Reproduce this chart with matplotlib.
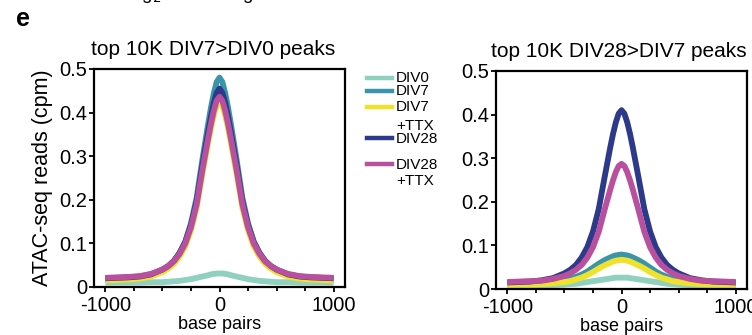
import numpy as np
import matplotlib
matplotlib.use("Agg")
import matplotlib.pyplot as plt
from matplotlib.lines import Line2D
from matplotlib.ticker import MultipleLocator

plt.rcParams['font.family'] = ['Liberation Sans', 'DejaVu Sans']

# positions (bp) around the peak centre
bp = [-1000, -900, -800, -700, -600, -500, -450, -400, -350, -300, -250, -200, -150,
      -100, -75, -50, -25, 0, 25, 50, 75, 100, 150, 200, 250, 300, 350, 400, 450,
      500, 600, 700, 800, 900, 1000]

labels = ["DIV0", "DIV7", "DIV7\n+TTX", "DIV28", "DIV28\n+TTX"]
colors = ["#8fd0bf", "#3a95aa", "#f0e12c", "#2d3a8a", "#b9509f"]

# top 10K DIV7>DIV0 peaks
left_div0 = [.010, .010, .010, .010, .011, .011, .012, .013, .014, .016, .018, .021, .024,
             .027, .029, .030, .031, .031, .031, .030, .029, .027, .024, .021, .018, .016,
             .014, .013, .012, .011, .011, .010, .010, .010, .010]
left_div7 = [.016, .017, .018, .020, .026, .037, .046, .058, .078, .104, .146, .205, .292,
             .373, .411, .444, .470, .480, .470, .444, .411, .373, .292, .205, .146, .104,
             .078, .058, .046, .037, .026, .020, .018, .017, .016]
left_div7ttx = [.015, .016, .017, .019, .024, .034, .042, .053, .070, .093, .130, .182, .259,
                .330, .364, .393, .416, .425, .416, .393, .364, .330, .259, .182, .130, .093,
                .070, .053, .042, .034, .024, .019, .017, .016, .015]
left_div28 = [.020, .021, .022, .024, .029, .040, .048, .060, .078, .103, .142, .197, .279,
              .355, .390, .422, .445, .455, .445, .422, .390, .355, .279, .197, .142, .103,
              .078, .060, .048, .040, .029, .024, .022, .021, .020]
left_div28ttx = [.021, .022, .023, .025, .030, .040, .048, .059, .076, .100, .137, .190, .268,
                 .340, .374, .404, .427, .436, .427, .404, .374, .340, .268, .190, .137, .100,
                 .076, .059, .048, .040, .030, .025, .023, .022, .021]

# top 10K DIV28>DIV7 peaks
right_div0 = [.008, .008, .008, .009, .009, .010, .011, .012, .014, .016, .018, .020, .022,
              .024, .025, .026, .026, .026, .026, .026, .025, .024, .022, .020, .018, .016,
              .014, .012, .011, .010, .009, .009, .008, .008, .008]
right_div7 = [.012, .012, .013, .015, .017, .021, .024, .028, .033, .040, .049, .058, .066,
              .072, .075, .077, .078, .079, .078, .077, .075, .072, .066, .058, .049, .040,
              .033, .028, .024, .021, .017, .015, .013, .012, .012]
right_div7ttx = [.009, .010, .010, .011, .013, .016, .018, .022, .026, .032, .039, .047, .054,
                 .060, .063, .065, .066, .067, .066, .065, .063, .060, .054, .047, .039, .032,
                 .026, .022, .018, .016, .013, .011, .010, .010, .009]
right_div28 = [.015, .016, .017, .020, .025, .036, .044, .055, .072, .096, .132, .183, .254,
               .323, .355, .382, .402, .410, .402, .382, .355, .323, .254, .183, .132, .096,
               .072, .055, .044, .036, .025, .020, .017, .016, .015]
right_div28ttx = [.016, .017, .018, .019, .023, .030, .036, .044, .055, .072, .096, .131, .180,
                  .227, .249, .268, .282, .287, .282, .268, .249, .227, .180, .131, .096, .072,
                  .055, .044, .036, .030, .023, .019, .018, .017, .016]

panels = [
    ("top 10K DIV7>DIV0 peaks",
     [left_div0, left_div7, left_div7ttx, left_div28, left_div28ttx]),
    ("top 10K DIV28>DIV7 peaks",
     [right_div0, right_div7, right_div7ttx, right_div28, right_div28ttx]),
]

fig = plt.figure(figsize=(7.52, 3.35), dpi=100)
ax_rects = [[0.125, 0.1433, 0.3338, 0.651], [0.6596, 0.1373, 0.3338, 0.651]]
title_x = [0.476, 0.488]

for i, (title, series) in enumerate(panels):
    ax = fig.add_axes(ax_rects[i])
    for ys, c in zip(series, colors):
        ax.plot(bp, ys, color=c, lw=4.2, solid_capstyle='butt', solid_joinstyle='round')
    ax.set_xlim(-1100, 1100)
    ax.set_ylim(0, 0.5)
    ax.set_xticks([-1000, 0, 1000])
    ax.set_xticklabels(["-1000", "0", "1000"])
    ax.xaxis.set_minor_locator(MultipleLocator(250))
    ax.set_yticks([0, 0.1, 0.2, 0.3, 0.4, 0.5])
    ax.set_yticklabels(["0", "0.1", "0.2", "0.3", "0.4", "0.5"])
    ax.tick_params(axis='both', which='major', labelsize=14.5, length=3.5, width=1.3)
    ax.tick_params(axis='y', which='major', pad=1.5)
    ax.tick_params(axis='x', which='major', pad=3)
    ax.tick_params(axis='x', which='minor', length=3, width=1.3)
    for s in ax.spines.values():
        s.set_linewidth(1.6)
    ax.set_title(title, fontsize=15, pad=10, x=title_x[i])
    ax.set_xlabel("base pairs", fontsize=13, labelpad=1)
    if i == 0:
        ax.set_ylabel("ATAC-seq reads (cpm)", fontsize=15.5, labelpad=4)

# legend drawn between panels
W, H = 752, 335
handle_y = [78, 91, 107, 138, 164]
for c, hy in zip(colors, handle_y):
    fig.add_artist(Line2D([367 / W, 392 / W], [1 - hy / H, 1 - hy / H], color=c, lw=3.2,
                          transform=fig.transFigure))
line_y = [78, 91, 107, 126, 139, 165, 181]
line_txt = [part for lab in labels for part in lab.split("\n")]
for txt, ty in zip(line_txt, line_y):
    fig.text(396 / W, 1 - ty / H, txt, fontsize=11, va='center', ha='left')

fig.text(16 / W, 1 - 19 / H, "e", fontsize=18, fontweight='bold', va='center', ha='left')
fig.text(127 / W, 1 + 1 / H, "log$_2$ fold change", fontsize=13.5, va='baseline', ha='left')

fig.savefig("out.png", dpi=100)
